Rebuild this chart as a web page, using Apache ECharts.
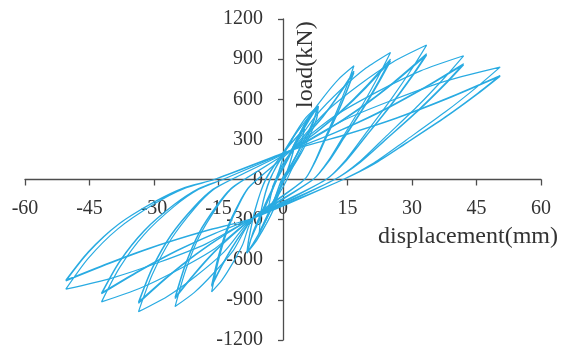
<!DOCTYPE html>
<html>
<head>
<meta charset="utf-8">
<script src="https://cdn.jsdelivr.net/npm/echarts@6/dist/echarts.min.js"></script>
<style>
html,body{margin:0;padding:0;background:#fff;}
#chart{width:561px;height:348px;}
</style>
</head>
<body>
<div id="chart"></div>
<script>
// Axis ticks
const xTicks = [-60, -45, -30, -15, 0, 15, 30, 45, 60];
const yTicks = [-1200, -900, -600, -300, 0, 300, 600, 900, 1200];
const xName = 'displacement(mm)';
const yName = 'load(kN)';

// Hysteresis loops, [displacement mm, load kN]
const smallLoops = [
  [-2.5,-60],[0,120],[2.5,220],[1.5,110],[-0.5,-60],[-3.5,-230],[-2.5,-80],[0,120],[2.5,225],[1.4,105],[-0.6,-65],[-3.5,-235],[-2.5,-70],
  [-1,60],[0.8,225],[5,380],[3.8,225],[1.5,90],[-0.3,0],[-2.8,-225],[-5.5,-400],[-5,-225],[-3,0],[0.8,225],[5,375],[3.7,220],[1.4,85],[-0.4,-5],[-2.9,-230],[-5.5,-395],[-5,-220],[-3,5],[0.9,230],
  [5,450],[8.2,550],[7.8,450],[4.7,225],[2,80],[0,0],[-2.2,-225],[-6,-450],[-8.4,-550],[-8,-450],[-6.5,-225],[-4,0],[0.5,225],[5,450],[8.2,545],[7.7,445],[4.6,220],[0,-5],[-2.3,-230],[-6,-445],[-8.3,-540],[-7.9,-440],[-6.4,-220],[-4,5],[0.6,230],[2,300]
];

const smallLoops2 = [
  [2,300],[6,470],[8,540],[7,430],[5.5,330],[3.5,200],[1,40],[-1.5,-110],[-4,-290],[-6.5,-460],[-8.2,-540],[-7.2,-420],[-5.5,-300],[-3,-120],[-1,40],[1.5,190],[4,340],[6.5,470],[8.1,535],
  [6.8,400],[5,270],[2.8,130],[0.6,-20],[-1.8,-160],[-4.5,-340],[-7,-480],[-8.3,-545],[-7.6,-460],[-6,-340],[-3.5,-160],[-1.5,-10],[1,140],[3.5,300],[6,440],[8.2,548],
  [7.4,470],[6.2,380],[4.2,250],[1.8,100],[-0.8,-80],[-3.2,-250],[-5.8,-420],[-8.4,-548],[-7.8,-480],[-6.8,-380],[-4.8,-230],[-2.5,-70],[0,90],[2.4,250],[5,410],[7.2,510]
];

const loops16 = [
  [2,220],[5.6,447],[9.3,611],[12.9,749],[16.5,850],
  [14.8,697],[12.5,510],[9.6,298],[7.3,128],[5,0],
  [-7,-290],[-9.4,-488],[-11.8,-631],[-14.2,-752],[-16.6,-840],
  [-15.0,-605],[-12.9,-378],[-10.2,-185],[-8.1,-67],[-6,0],
  [2,220],[5.6,338],[9.3,474],[12.9,633],[16.5,810],
  [14.8,664],[12.5,486],[9.6,284],[7.3,122],[5,0],
  [-7,-290],[-9.4,-392],[-11.8,-509],[-14.2,-647],[-16.6,-800],
  [-15.0,-576],[-12.9,-360],[-10.2,-176],[-8.1,-64],[-6,0],
  [2,220],[5.6,336],[9.3,469],[12.9,626],[16.5,800],
  [14.8,656],[12.5,480],[9.6,280],[7.3,120],[5,0],
  [-7,-290],[-9.4,-390],[-11.8,-505],[-14.2,-640],[-16.6,-790],
  [-15.0,-569],[-12.9,-356],[-10.2,-174],[-8.1,-63],[-6,0],
  [2,220]
];

const loops25 = [
  [2,220],[7.8,483],[13.5,673],[19.3,833],[25,950],
  [22.3,779],[18.7,570],[14.2,333],[10.6,143],[7,0],
  [-7,-290],[-11.5,-528],[-16.1,-699],[-20.6,-844],[-25.1,-950],
  [-22.7,-684],[-19.5,-428],[-15.4,-209],[-12.2,-76],[-9,0],
  [2,220],[7.8,356],[13.5,512],[19.3,696],[25,900],
  [22.3,738],[18.7,540],[14.2,315],[10.6,135],[7,0],
  [-7,-290],[-11.5,-410],[-16.1,-548],[-20.6,-710],[-25.1,-890],
  [-22.7,-641],[-19.5,-401],[-15.4,-196],[-12.2,-71],[-9,0],
  [2,220],[7.8,353],[13.5,506],[19.3,686],[25,885],
  [22.3,726],[18.7,531],[14.2,310],[10.6,133],[7,0],
  [-7,-290],[-11.5,-408],[-16.1,-544],[-20.6,-703],[-25.1,-880],
  [-22.7,-634],[-19.5,-396],[-15.4,-194],[-12.2,-70],[-9,0],
  [2,220]
];

const loops33 = [
  [2,220],[9.9,503],[17.7,707],[25.6,879],[33.4,1005],
  [29.9,824],[25.2,603],[19.4,352],[14.7,151],[10,0],
  [-7,-290],[-13.7,-541],[-20.3,-723],[-27,-876],[-33.6,-988],
  [-30.4,-711],[-26,-445],[-20.6,-217],[-16.3,-79],[-12,0],
  [2,220],[9.9,364],[17.7,530],[25.6,724],[33.4,940],
  [29.9,771],[25.2,564],[19.4,329],[14.7,141],[10,0],
  [-7,-290],[-13.7,-417],[-20.3,-563],[-27,-735],[-33.6,-925],
  [-30.4,-666],[-26,-416],[-20.6,-204],[-16.3,-74],[-12,0],
  [2,220],[9.9,362],[17.7,525],[25.6,717],[33.4,930],
  [29.9,763],[25.2,558],[19.4,326],[14.7,140],[10,0],
  [-7,-290],[-13.7,-415],[-20.3,-559],[-27,-728],[-33.6,-915],
  [-30.4,-659],[-26,-412],[-20.6,-201],[-16.3,-73],[-12,0],
  [2,220]
];

const loops42 = [
  [2,220],[12,474],[22,657],[32,812],[42,925],
  [37.5,759],[31.5,555],[24,324],[18,139],[12,0],
  [-7,-290],[-15.8,-515],[-24.6,-678],[-33.4,-815],[-42.2,-915],
  [-38,-659],[-32.3,-412],[-25.3,-201],[-19.6,-73],[-14,0],
  [2,220],[12,349],[22,498],[32,672],[42,866],
  [37.5,710],[31.5,520],[24,303],[18,130],[12,0],
  [-7,-290],[-15.8,-403],[-24.6,-533],[-33.4,-686],[-42.2,-855],
  [-38,-616],[-32.3,-385],[-25.3,-188],[-19.6,-68],[-14,0],
  [2,220],[12,348],[22,494],[32,667],[42,858],
  [37.5,704],[31.5,515],[24,300],[18,129],[12,0],
  [-7,-290],[-15.8,-402],[-24.6,-530],[-33.4,-681],[-42.2,-848],
  [-38,-611],[-32.3,-382],[-25.3,-187],[-19.6,-68],[-14,0],
  [2,220]
];

const loops50 = [
  [2,220],[14.1,443],[26.3,604],[38.4,741],[50.5,840],
  [45,689],[37.7,504],[28.6,294],[21.2,126],[14,0],
  [-7,-290],[-17.9,-481],[-28.8,-619],[-39.6,-735],[-50.5,-820],
  [-45.3,-590],[-38.4,-369],[-29.8,-180],[-22.9,-66],[-16,0],
  [2,220],[14.1,332],[26.3,460],[38.4,611],[50.5,778],
  [45,638],[37.7,467],[28.6,272],[21.2,117],[14,0],
  [-7,-290],[-17.9,-384],[-28.8,-491],[-39.6,-618],[-50.5,-758],
  [-45.3,-546],[-38.4,-338],[-29.8,-167],[-22.9,-61],[-16,0],
  [2,220],[14.1,330],[26.3,457],[38.4,606],[50.5,772],
  [45,633],[37.7,463],[28.6,270],[21.2,116],[14,0],
  [-7,-290],[-17.9,-382],[-28.8,-489],[-39.6,-613],[-50.5,-752],
  [-45.3,-541],[-38.4,-338],[-29.8,-165],[-22.9,-60],[-16,0],
  [2,220]
];

const loopSets = [smallLoops, smallLoops2, loops16, loops25, loops33, loops42, loops50];

const lineColor = '#29abe2';
const axisColor = '#4d4d4d';
const font = '"Liberation Serif", "Times New Roman", serif';

const GRID = {left: 25, right: 20, top: 19, bottom: 8};
const W = 561, H = 348;
const plotW = W - GRID.left - GRID.right;
const plotH = H - GRID.top - GRID.bottom;
// shift the axes so they cross at the origin (labels travel with them)
const yAxisOffset = -plotW * (0 - xTicks[0]) / (xTicks[xTicks.length - 1] - xTicks[0]);
const xAxisOffset = -plotH * (0 - yTicks[0]) / (yTicks[yTicks.length - 1] - yTicks[0]);
const plain = function (v) { return String(v); };

const chart = echarts.init(document.getElementById('chart'), null, {renderer: 'canvas'});
chart.setOption({
  animation: false,
  grid: Object.assign({containLabel: false, outerBoundsMode: 'none'}, GRID),
  xAxis: {
    type: 'value', position: 'bottom', offset: xAxisOffset,
    min: xTicks[0], max: xTicks[xTicks.length - 1], interval: xTicks[1] - xTicks[0],
    axisLine: {show: true, onZero: false, lineStyle: {color: axisColor, width: 1.3}},
    axisTick: {show: true, inside: false, length: 6, lineStyle: {color: axisColor, width: 1.3}},
    axisLabel: {fontFamily: font, fontSize: 20, color: '#333', margin: 19, formatter: plain},
    splitLine: {show: false}
  },
  yAxis: {
    type: 'value', position: 'left', offset: yAxisOffset,
    min: yTicks[0], max: yTicks[yTicks.length - 1], interval: yTicks[1] - yTicks[0],
    axisLine: {show: true, onZero: false, lineStyle: {color: axisColor, width: 1.3}},
    axisTick: {show: true, inside: false, length: 5, lineStyle: {color: axisColor, width: 1.3}},
    axisLabel: {fontFamily: font, fontSize: 20, color: '#333', margin: 20, formatter: plain},
    splitLine: {show: false}
  },
  graphic: [
    {type: 'text', x: 558, y: 249, style: {text: xName, font: '24px ' + font, fill: '#333', textAlign: 'right', textVerticalAlign: 'bottom', verticalAlign: 'bottom'}},
    {type: 'text', x: 318, y: 108, rotation: Math.PI / 2, style: {text: yName, font: '24px ' + font, fill: '#333', textAlign: 'left', textVerticalAlign: 'bottom', verticalAlign: 'bottom'}}
  ],
  series: loopSets.map(function (d) {
    return {
      type: 'line', data: d, showSymbol: false, smooth: 0.25,
      lineStyle: {color: lineColor, width: 1.2},
      emphasis: {disabled: true}, silent: true
    };
  })
});
</script>
</body>
</html>
